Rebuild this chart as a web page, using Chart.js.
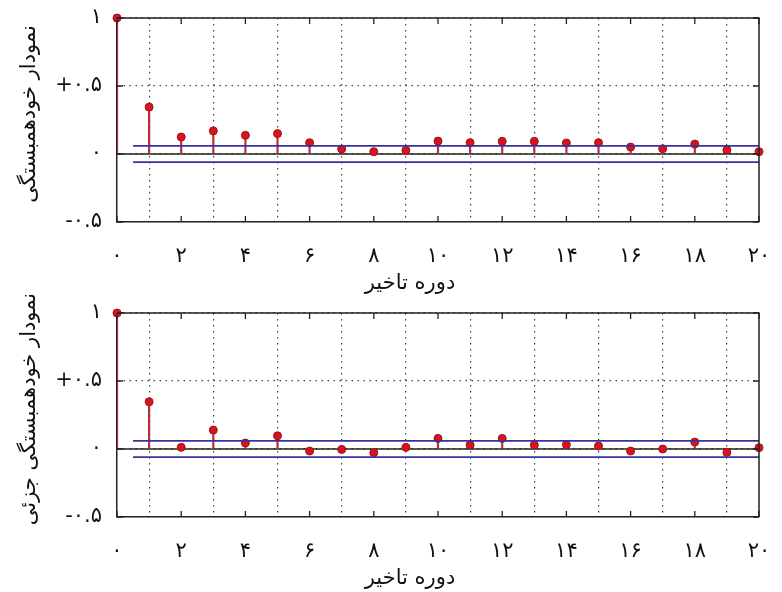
<!DOCTYPE html>
<html>
<head>
<meta charset="utf-8">
<script src="https://cdn.jsdelivr.net/npm/chart.js@4/dist/chart.umd.min.js"></script>
<style>
	body { margin: 0; background: #fff; }
	#wrap { position: relative; width: 782px; height: 592px; }
	canvas { position: absolute; left: 0; }
	#acfChart { top: 0; }
	#pacfChart { top: 295px; }
</style>
</head>
<body>
<div id="wrap">
	<canvas id="acfChart" width="782" height="296"></canvas>
	<canvas id="pacfChart" width="782" height="296"></canvas>
</div>
<script>
// lags (دوره تاخیر)
var lags = [0, 1, 2, 3, 4, 5, 6, 7, 8, 9, 10, 11, 12, 13, 14, 15, 16, 17, 18, 19, 20];
// autocorrelation
var acfValues = [1, 0.345, 0.125, 0.17, 0.137, 0.15, 0.083, 0.037, 0.017, 0.027, 0.095, 0.083, 0.093, 0.093, 0.081, 0.083, 0.051, 0.039, 0.073, 0.029, 0.017];
// partial autocorrelation
var pacfValues = [1, 0.347, 0.012, 0.139, 0.044, 0.097, -0.015, -0.003, -0.027, 0.012, 0.078, 0.029, 0.078, 0.029, 0.032, 0.022, -0.015, 0, 0.051, -0.025, 0.01];
// confidence bounds
var acfBound = [0.06, -0.06];
var pacfBound = [0.06, -0.06];
var boundLags = [0.5, 20];

var xTickValues = [0, 2, 4, 6, 8, 10, 12, 14, 16, 18, 20];
var xTickLabels = ["۰", "۲", "۴", "۶", "۸", "۱۰", "۱۲", "۱۴", "۱۶", "۱۸", "۲۰"];
var yTickValues = [-0.5, 0, 0.5, 1];
var yTickLabels = ["-۰.۵", "۰", "+۰.۵", "۱"];

var xTitle = "دوره تاخیر";
var acfTitle = "نمودار خودهمبستگی";
var pacfTitle = "نمودار خودهمبستگی جزئی";

var FONT = "'DejaVu Sans', sans-serif";

function toPoints(xs, ys){
	return xs.map(function(x, i){ return {x: x, y: ys[i]}; });
}

function tickLabel(values, labels){
	return function(value){
		var idx = values.indexOf(Math.round(value * 100) / 100);
		return idx < 0 ? "" : labels[idx];
	};
}

// titles drawn at the spots they sit in the original figure
var titlePlugin = {
	id: "titles",
	afterDraw: function(chart, args, opts){
		var ctx = chart.ctx;
		var area = chart.chartArea;
		ctx.save();
		ctx.fillStyle = "#111";
		ctx.font = "21px " + FONT;
		ctx.textAlign = "center";
		ctx.textBaseline = "middle";
		ctx.fillText(opts.x, (area.left + area.right) / 2 - 28, 284);
		ctx.translate(30, (area.top + area.bottom) / 2 - 6);
		ctx.rotate(-Math.PI / 2);
		ctx.fillText(opts.y, 0, 0);
		ctx.restore();
	}
};

// top/right frame and inward tick marks on all four sides
var frameTickPlugin = {
	id: "frameTicks",
	afterDatasetsDraw: function(chart){
		var ctx = chart.ctx;
		var area = chart.chartArea;
		var xs = chart.scales.x, ys = chart.scales.y;
		ctx.save();
		ctx.strokeStyle = "#222";
		ctx.lineWidth = 1.5;
		ctx.beginPath();
		ctx.moveTo(area.left, area.top); ctx.lineTo(area.right, area.top); ctx.lineTo(area.right, area.bottom);
		ctx.stroke();
		ctx.lineWidth = 1.3;
		ctx.beginPath();
		xTickValues.forEach(function(v){
			var px = xs.getPixelForValue(v);
			ctx.moveTo(px, area.bottom); ctx.lineTo(px, area.bottom - 6);
			ctx.moveTo(px, area.top); ctx.lineTo(px, area.top + 6);
		});
		yTickValues.forEach(function(v){
			var py = ys.getPixelForValue(v);
			ctx.moveTo(area.left, py); ctx.lineTo(area.left + 6, py);
			ctx.moveTo(area.right, py); ctx.lineTo(area.right - 6, py);
		});
		ctx.stroke();
		ctx.restore();
	}
};

function makeChart(id, values, bound, yName){
	return new Chart(document.getElementById(id), {
		type: "bar",
		data: {
			datasets: [
				{
					type: "line",
					data: toPoints(boundLags, [bound[0], bound[0]]),
					borderColor: "#34349c",
					borderWidth: 1.6,
					pointRadius: 0,
					order: 0
				},
				{
					type: "line",
					data: toPoints(boundLags, [bound[1], bound[1]]),
					borderColor: "#34349c",
					borderWidth: 1.6,
					pointRadius: 0,
					order: 0
				},
				{
					type: "line",
					data: toPoints(lags, values),
					showLine: false,
					pointRadius: 4,
					pointBackgroundColor: "#d5141f",
					pointBorderColor: "#a3101c",
					pointBorderWidth: 1,
					clip: false,
					order: 1
				},
				{
					type: "bar",
					data: toPoints(lags, values),
					backgroundColor: "#b4303c",
					barThickness: 1.5,
					order: 2
				},
				{
					type: "line",
					data: toPoints([0, 20], [0, 0]),
					borderColor: "#222",
					borderWidth: 1.3,
					pointRadius: 0,
					order: 3
				}
			]
		},
		options: {
			responsive: false,
			animation: false,
			layout: {autoPadding: false, padding: {left: 0, top: 18, right: 23, bottom: 0}},
			plugins: {
				legend: {display: false},
				tooltip: {enabled: false},
				titles: {x: xTitle, y: yName}
			},
			scales: {
				x: {
					type: "linear",
					min: 0,
					max: 20,
					offset: false,
					afterBuildTicks: function(scale){
						scale.ticks = xTickValues.map(function(v){ return {value: v}; });
					},
					afterFit: function(scale){
						scale.height = 74;
						scale.paddingLeft = 0;
						scale.paddingRight = 0;
					},
					ticks: {
						padding: 22,
						color: "#111",
						font: {family: FONT, size: 21},
						maxRotation: 0,
						callback: tickLabel(xTickValues, xTickLabels)
					},
					grid: {color: "#444", lineWidth: 1.2, drawTicks: false},
					border: {display: true, color: "#222", width: 1.5, dash: [1.5, 4.5]}
				},
				y: {
					min: -0.5,
					max: 1,
					afterBuildTicks: function(scale){
						scale.ticks = yTickValues.map(function(v){ return {value: v}; });
					},
					afterFit: function(scale){
						scale.width = 117;
						scale.paddingTop = 0;
						scale.paddingBottom = 0;
					},
					ticks: {
						padding: 15,
						color: "#111",
						font: {family: FONT, size: 21},
						callback: tickLabel(yTickValues, yTickLabels)
					},
					grid: {color: "#444", lineWidth: 1.2, drawTicks: false},
					border: {display: true, color: "#222", width: 1.5, dash: [1.5, 4.5]}
				}
			}
		},
		plugins: [titlePlugin, frameTickPlugin]
	});
}

makeChart("acfChart", acfValues, acfBound, acfTitle);
makeChart("pacfChart", pacfValues, pacfBound, pacfTitle);
</script>
</body>
</html>
